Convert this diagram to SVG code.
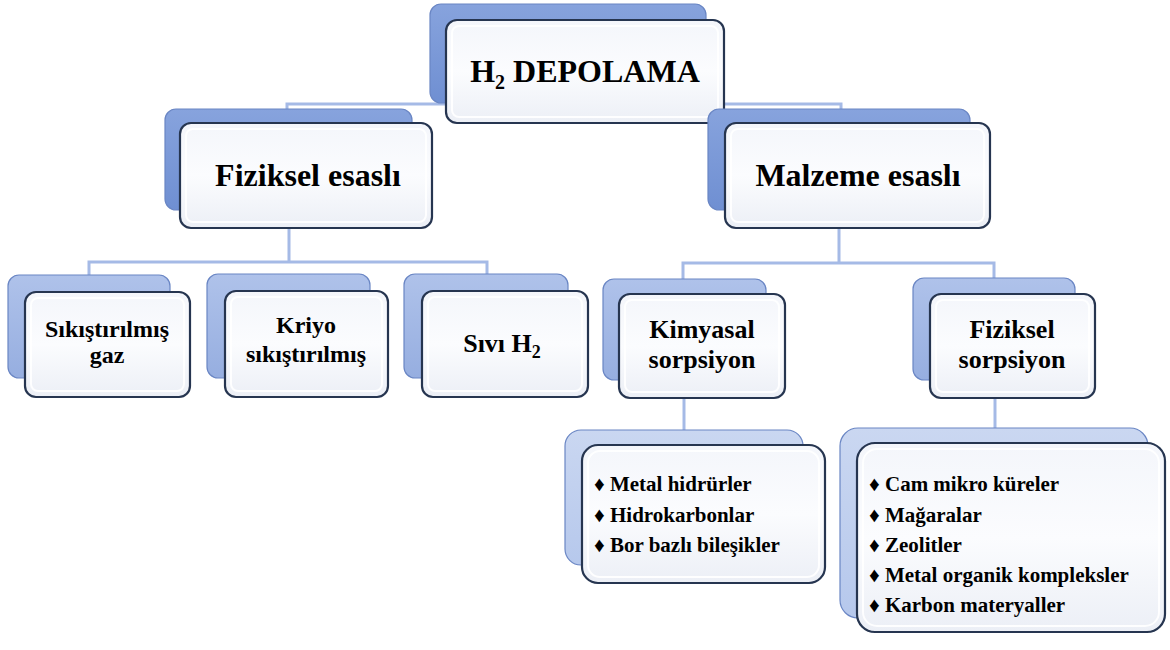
<svg xmlns="http://www.w3.org/2000/svg" width="1170" height="650" viewBox="0 0 1170 650">
<defs>
<linearGradient id="backDark" x1="0" y1="0" x2="0" y2="1">
<stop offset="0" stop-color="#87A3DD"/>
<stop offset="1" stop-color="#6F8FD2"/>
</linearGradient>
<linearGradient id="backMid" x1="0" y1="0" x2="0" y2="1">
<stop offset="0" stop-color="#AFC2EA"/>
<stop offset="1" stop-color="#96AEE0"/>
</linearGradient>
<linearGradient id="backLight" x1="0" y1="0" x2="0" y2="1">
<stop offset="0" stop-color="#CAD7F1"/>
<stop offset="1" stop-color="#B6C8EC"/>
</linearGradient>
<linearGradient id="front" x1="0" y1="0" x2="0" y2="1">
<stop offset="0" stop-color="#F4F6FB"/>
<stop offset="0.5" stop-color="#FBFCFE"/>
<stop offset="1" stop-color="#ECEFF6"/>
</linearGradient>
</defs>
<style>
.back{stroke:#6A86C4;stroke-width:1.2}
.bd{fill:url(#backDark)}
.bm{fill:url(#backMid)}
.bl{fill:url(#backLight)}
.front{fill:url(#front);stroke:#263550;stroke-width:2.2}
.inner{fill:none;stroke:#FFFFFF;stroke-width:2;opacity:0.9}
.conn{fill:none;stroke:#A5BAE6;stroke-width:3}
text{font-family:"Liberation Serif","Times New Roman",serif;font-weight:bold;fill:#000}
.big{font-size:32px;text-anchor:middle}
.mid{font-size:24px;text-anchor:middle}
.mid2{font-size:26px;text-anchor:middle}
.lst{font-size:21px}
</style>
<rect width="1170" height="650" fill="#FFFFFF"/>
<g id="connectors">
<path class="conn" d="M287,112 V104 H841 V112"/>
<path class="conn" d="M289,228 V262 M89,276 V262 H487 V276"/>
<path class="conn" d="M839,228 V263 M683,280 V263 H994 V280"/>
<path class="conn" d="M684,398 V432"/>
<path class="conn" d="M995,398 V430"/>
</g>
<g id="n-root">
<rect class="back bd" x="430" y="4" width="276" height="99" rx="11"/>
<rect class="front" x="446" y="20" width="278" height="103" rx="11"/>
<rect class="inner" x="452" y="26" width="266" height="91" rx="7"/>
<text class="big" x="585" y="82">H<tspan font-size="20" dy="7">2</tspan><tspan dy="-7"> DEPOLAMA</tspan></text>
</g>
<g id="n-fiziksel">
<rect class="back bd" x="165" y="109" width="247" height="101" rx="11"/>
<rect class="front" x="180" y="123" width="252" height="105" rx="11"/>
<rect class="inner" x="186" y="129" width="240" height="93" rx="7"/>
<text class="big" x="308" y="186">Fiziksel esaslı</text>
</g>
<g id="n-malzeme">
<rect class="back bd" x="708" y="109" width="262" height="101" rx="11"/>
<rect class="front" x="725" y="123" width="265" height="105" rx="11"/>
<rect class="inner" x="731" y="129" width="253" height="93" rx="7"/>
<text class="big" x="858" y="186">Malzeme esaslı</text>
</g>
<g id="n-sikistirilmis">
<rect class="back bm" x="8" y="275" width="162" height="103" rx="11"/>
<rect class="front" x="25" y="292" width="165" height="105" rx="11"/>
<rect class="inner" x="31" y="298" width="153" height="93" rx="7"/>
<text class="mid" x="107" y="337">Sıkıştırılmış</text>
<text class="mid" x="107" y="363">gaz</text>
</g>
<g id="n-kriyo">
<rect class="back bm" x="207" y="274" width="163" height="104" rx="11"/>
<rect class="front" x="225" y="291" width="163" height="106" rx="11"/>
<rect class="inner" x="231" y="297" width="151" height="94" rx="7"/>
<text class="mid" x="306" y="333">Kriyo</text>
<text class="mid" x="306" y="362">sıkıştırılmış</text>
</g>
<g id="n-sivi">
<rect class="back bm" x="404" y="274" width="164" height="104" rx="11"/>
<rect class="front" x="422" y="291" width="166" height="106" rx="11"/>
<rect class="inner" x="428" y="297" width="154" height="94" rx="7"/>
<text class="mid2" x="502" y="352">Sıvı H<tspan font-size="18" dy="6">2</tspan></text>
</g>
<g id="n-kimyasal">
<rect class="back bm" x="603" y="279" width="163" height="101" rx="11"/>
<rect class="front" x="619" y="294" width="166" height="104" rx="11"/>
<rect class="inner" x="625" y="300" width="154" height="92" rx="7"/>
<text class="mid2" x="702" y="338">Kimyasal</text>
<text class="mid2" x="702" y="368">sorpsiyon</text>
</g>
<g id="n-fizsorp">
<rect class="back bm" x="913" y="278" width="162" height="102" rx="11"/>
<rect class="front" x="930" y="294" width="165" height="104" rx="11"/>
<rect class="inner" x="936" y="300" width="153" height="92" rx="7"/>
<text class="mid2" x="1012" y="338">Fiziksel</text>
<text class="mid2" x="1012" y="368">sorpsiyon</text>
</g>
<g id="n-kimyasal-list">
<rect class="back bl" x="565" y="430" width="238" height="135" rx="16"/>
<rect class="front" x="582" y="445" width="243" height="138" rx="16"/>
<rect class="inner" x="588" y="451" width="231" height="126" rx="12"/>
<text class="lst" x="594" y="491">♦ Metal hidrürler</text>
<text class="lst" x="594" y="522">♦ Hidrokarbonlar</text>
<text class="lst" x="594" y="552">♦ Bor bazlı bileşikler</text>
</g>
<g id="n-fizsorp-list">
<rect class="back bl" x="840" y="428" width="308" height="190" rx="18"/>
<rect class="front" x="857" y="443" width="308" height="189" rx="18"/>
<rect class="inner" x="863" y="449" width="296" height="177" rx="14"/>
<text class="lst" x="869" y="491">♦ Cam mikro küreler</text>
<text class="lst" x="869" y="522">♦ Mağaralar</text>
<text class="lst" x="869" y="552">♦ Zeolitler</text>
<text class="lst" x="869" y="582">♦ Metal organik kompleksler</text>
<text class="lst" x="869" y="612">♦ Karbon materyaller</text>
</g>
</svg>
